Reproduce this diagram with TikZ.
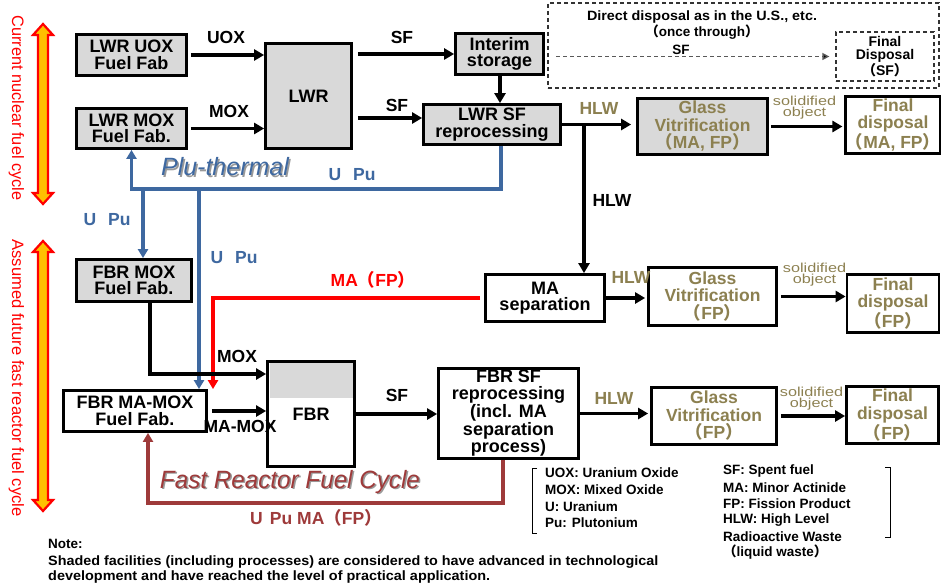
\documentclass[tikz,border=0pt]{standalone}
\usepackage{fontspec}
\setmainfont{Liberation Sans}
\newfontfamily\cjk{Noto Sans CJK JP}
\usepackage{graphicx}
\usetikzlibrary{arrows.meta,calc}
\definecolor{boxgray}{RGB}{217,217,217}
\definecolor{hlwcol}{RGB}{140,128,80}
\definecolor{pblue}{RGB}{62,104,160}
\definecolor{dred}{RGB}{158,58,58}
\definecolor{gold}{RGB}{255,192,0}
\newcommand\lp{{\cjk （}}
\newcommand\rp{{\cjk ）}}
\newcommand\fitw[2]{\resizebox{#1}{\height}{#2}}
\newcommand\bxf{\fontsize{18}{16.5}\selectfont\bfseries}
\newcommand\gxf{\fontsize{17.5}{17.5}\selectfont\bfseries}
\newcommand\labf{\fontsize{17.5}{17}\selectfont\bfseries}
\newcommand\dirf{\fontsize{13.5}{13}\selectfont\bfseries}
\newcommand\fdf{\fontsize{14}{13}\selectfont\bfseries}
\newcommand\legf{\fontsize{13.5}{16}\selectfont\bfseries}
\newcommand\itf{\fontsize{25}{25}\selectfont\itshape}
\newcommand\solf{\fontsize{13}{10}\selectfont}
\newcommand\solid{\scalebox{1.25}[1]{\begin{tabular}{@{}c@{}}solidified\\[-1pt]object\end{tabular}}}
\tikzset{
  fbox/.style={draw, line width=2.8pt, inner sep=0pt, align=center, font=\bxf},
  shaded/.style={fbox, fill=boxgray},
  wbox/.style={fbox, fill=white},
  gbox/.style={font=\gxf, text=hlwcol},
  dbox/.style={draw=black!80, line width=1.3pt, dash pattern=on 4pt off 3pt, inner sep=0pt, align=center},
  arr/.style={line width=3.5pt, -{Triangle[length=10pt,width=11pt]}},
  bluearr/.style={draw=pblue, line width=3.2pt, -{Triangle[length=9pt,width=10pt]}},
  redarr/.style={draw=red, line width=3.2pt, -{Triangle[length=9pt,width=10pt]}},
  darr/.style={draw=dred, line width=3.2pt, -{Triangle[length=9pt,width=10pt]}},
  dasharr/.style={draw=black!65, line width=1.4pt, dash pattern=on 4pt off 3pt, -{Triangle[length=7pt,width=7pt,fill=black]}},
  lab/.style={font=\labf, inner sep=0pt},
  hlab/.style={font=\labf, text=hlwcol, inner sep=0pt},
  blab/.style={font=\labf, text=pblue, inner sep=0pt},
  slab/.style={font=\solf, text=hlwcol, inner sep=0pt},
  leg/.style={font=\legf, anchor=west, inner sep=0pt},
  side/.style={font=\fontsize{16.5}{16}\selectfont, text=red, rotate=-90, inner sep=0pt},
  cyc/.style={draw=red, fill=gold, line width=2.2pt, line join=miter}
}
\begin{document}
\begin{tikzpicture}[x=1pt,y=-1pt]
\useasboundingbox (0,0) rectangle (941,583);

% side arrows
\filldraw[cyc] (43,24) -- (53,35) -- (48,35) -- (48,193) -- (53,193) -- (43,204) -- (33,193) -- (38,193) -- (38,35) -- (33,35) -- cycle;
\filldraw[cyc] (43,241) -- (53,252) -- (48,252) -- (48,500) -- (53,500) -- (43,511) -- (33,500) -- (38,500) -- (38,252) -- (33,252) -- cycle;
\node[side] (side1) at (16.5,108) {\fitw{185pt}{Current nuclear fuel cycle}};
\node[side] (side2) at (16.5,378) {\fitw{277pt}{Assumed future fast reactor fuel cycle}};

% direct disposal
\node[dbox, minimum width=391pt, minimum height=85pt] (direct) at (743.5,45.5) {};
\node[font=\dirf, inner sep=0pt] (dtxt) at (702,17) {\fitw{230pt}{Direct disposal as in the U.S., etc.}};
\node[font=\dirf, inner sep=0pt] (once) at (702,32) {\lp once through\rp};
\node[dbox, minimum width=98pt, minimum height=49pt, font=\fdf] (fdsf) at (885,56.5) {Final\\Disposal\\\lp SF\rp};
\node[font=\dirf, inner sep=0pt] (sfd) at (681,50) {SF};
\draw[dasharr, shorten >=6pt] (fdsf.west -| 556,0) -- (fdsf.west);

% upper row boxes
\node[shaded, minimum width=110pt, minimum height=41pt] (uox) at (131.5,55) {LWR UOX\\Fuel Fab};
\node[shaded, minimum width=110pt, minimum height=40pt] (lmox) at (131.5,128.5) {LWR MOX\\Fuel Fab.};
\node[shaded, minimum width=86pt, minimum height=105pt] (lwr) at (308.5,96) {LWR};
\node[shaded, minimum width=88pt, minimum height=41pt] (interim) at (499.5,54) {Interim\\storage};
\node[shaded, minimum width=137pt, minimum height=40pt] (lrep) at (492,124.5) {LWR SF\\reprocessing};
\node[shaded, gbox, minimum width=130pt, minimum height=56pt] (glass1) at (702.5,126.5) {Glass\\Vitrification\\\lp MA, FP\rp};
\node[wbox, gbox, minimum width=89pt, minimum height=57pt] (final1) at (893,125) {Final\\disposal\\\lp MA, FP\rp};

% middle row
\node[wbox, minimum width=119pt, minimum height=47pt] (masep) at (545,298) {MA\\separation};
\node[wbox, gbox, minimum width=128pt, minimum height=58pt] (glass2) at (712.5,296.5) {Glass\\Vitrification\\\lp FP\rp};
\node[wbox, gbox, minimum width=92pt, minimum height=58pt] (final2) at (893,303.5) {Final\\disposal\\\lp FP\rp};

% FBR row
\node[shaded, minimum width=115pt, minimum height=42pt] (fmox) at (134,280.5) {FBR MOX\\Fuel Fab.};
\node[wbox, minimum width=143pt, minimum height=41pt] (mamox) at (135,411) {FBR MA-MOX\\Fuel Fab.};
\node[wbox, minimum width=87pt, minimum height=105pt] (fbr) at (311,414) {FBR};
\fill[boxgray] (270,363) rectangle (353,398);
\node[wbox, minimum width=140pt, minimum height=90pt] (frep) at (508.5,413.5) {FBR SF\\reprocessing\\(incl. MA\\separation\\process)};
\node[wbox, gbox, minimum width=125pt, minimum height=57pt] (glass3) at (714,416) {Glass\\Vitrification\\\lp FP\rp};
\node[wbox, gbox, minimum width=92pt, minimum height=57pt] (final3) at (892.5,415) {Final\\disposal\\\lp FP\rp};

% coloured recycle lines
\draw[bluearr] (lrep.south -| 501,0) -- (501,189) -- (lmox.south |- 0,189) -- (lmox.south);
\draw[bluearr] (143,189) -- (fmox.north -| 143,0);
\draw[bluearr] (199,189) -- (mamox.north -| 199,0);
\draw[redarr] ($(masep.west)+(-4,0)$) -| (mamox.north -| 213,0);
\draw[darr] (frep.south -| 503,0) |- (148,503) -- (mamox.south -| 148,0);

% black connectors
\draw[arr, shorten <=3pt] (uox.east) -- (uox.east -| lwr.west);
\draw[arr, shorten <=3pt] (lmox.east) -- (lmox.east -| lwr.west);
\draw[arr, shorten <=5pt] (lwr.east |- interim.west) -- (interim.west);
\draw[arr, shorten <=5pt] (lwr.east |- 0,118) -- (lrep.west |- 0,118);
\draw[arr] (interim.south -| 500,0) -- (lrep.north -| 500,0);
\draw[arr, shorten >=5pt] (lrep.east) -- (lrep.east -| glass1.west);
\draw[arr] (lrep.east -| 584,0) -- (masep.north -| 584,0);
\draw[arr, shorten <=2pt, shorten >=2pt] (glass1.east) -- (glass1.east -| final1.west);
\draw[arr, shorten >=2pt] (masep.east) -- (masep.east -| glass2.west);
\draw[arr, shorten <=3pt] (glass2.east) -- (glass2.east -| final2.west);
\draw[arr] (fmox.south -| 150,0) |- (fbr.west |- 0,374);
\draw[arr, shorten <=4pt] (mamox.east) -- (mamox.east -| fbr.west);
\draw[arr] (fbr.east) -- (fbr.east -| frep.west);
\draw[arr, shorten >=2pt] (frep.east) -- (frep.east -| glass3.west);
\draw[arr, shorten <=3pt] (glass3.east) -- (glass3.east -| final3.west);

% labels
\node[lab] (l1) at (226,37) {UOX};
\node[lab] (l2) at (229,111) {MOX};
\node[lab] (l3) at (402,37) {SF};
\node[lab] (l4) at (397,105) {SF};
\node[hlab] (l5) at (599,108) {HLW};
\node[lab] (l6) at (612,200) {HLW};
\node[hlab] (l7) at (631,277) {HLW};
\node[hlab] (l8) at (614,398) {HLW};
\node[slab] (s1) at (804.5,108) {\solid};
\node[slab] (s2) at (814.5,275) {\solid};
\node[slab] (s3) at (811.5,399) {\solid};
\node[lab] (l9) at (237,356) {MOX};
\node[lab] (l10) at (240,426) {MA-MOX};
\node[lab] (l11) at (397,395) {SF};
\node[blab] (u1) at (352,175) {U\hspace{12pt}Pu};
\node[blab] (u2) at (107,220) {U\hspace{12pt}Pu};
\node[blab] (u3) at (234,258) {U\hspace{12pt}Pu};
\node[lab, text=red] (ma) at (373,280) {MA\lp FP\rp};
\node[lab, text=dred] (upma) at (316,518) {U\hspace{7pt}Pu\hspace{5pt}MA\lp FP\rp};
\node[font=\itf, text=black!40, inner sep=0pt] (plush) at (226.5,168.5) {Plu-thermal};
\node[font=\itf, text=pblue, inner sep=0pt] (plu) at (225,167) {Plu-thermal};
\node[font=\itf, text=black!40, inner sep=0pt] (frsh) at (291.5,483.5) {\fitw{260pt}{Fast Reactor Fuel Cycle}};
\node[font=\itf, text=dred, inner sep=0pt] (frfc) at (290,482) {\fitw{260pt}{Fast Reactor Fuel Cycle}};

% legend
\draw[line width=1pt] (537,468) -- (532,468) -- (532,533) -- (537,533);
\draw[line width=1pt] (885,467) -- (890,467) -- (890,537) -- (885,537);
\node[leg] (g1) at (545,473) {UOX: Uranium Oxide};
\node[leg] (g2) at (545,490) {MOX: Mixed Oxide};
\node[leg] (g3) at (545,506.5) {U: Uranium};
\node[leg] (g4) at (545,522.5) {Pu: Plutonium};
\node[leg] (h1) at (723,471) {SF: Spent fuel};
\node[leg] (h2) at (723,487.5) {MA: Minor Actinide};
\node[leg] (h3) at (723,504) {FP: Fission Product};
\node[leg] (h4) at (723,520) {HLW: High Level};
\node[leg] (h5) at (723,536.5) {Radioactive Waste};
\node[leg] (h6) at (723,552.5) {\lp liquid waste\rp};

% note
\node[font=\legf, anchor=base west, inner sep=0pt] (n1) at (48,548) {Note:};
\node[font=\legf, anchor=base west, inner sep=0pt] (n2) at (48,565) {\fitw{610pt}{Shaded facilities (including processes) are considered to have advanced in technological}};
\node[font=\legf, anchor=base west, inner sep=0pt] (n3) at (48,580.5) {\fitw{442pt}{development and have reached the level of practical application.}};
\end{tikzpicture}
\end{document}
